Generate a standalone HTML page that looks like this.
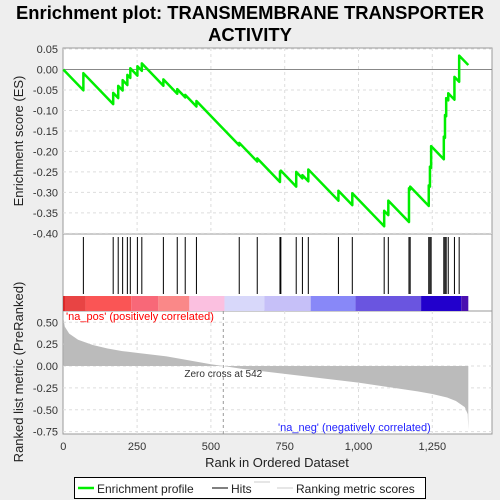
<!DOCTYPE html>
<html><head><meta charset="utf-8"><style>
body{margin:0;background:#eeeeee;font-family:"Liberation Sans",sans-serif}
svg{display:block}
</style></head><body>
<svg id="c" width="500" height="500" xmlns="http://www.w3.org/2000/svg"></svg>
<script>
const hitRanks=[68,169,186,201,217,227,251,266,339,386,413,451,596,657,734,737,789,810,830,932,979,1087,1101,1171,1175,1238,1242,1246,1289,1293,1297,1304,1325,1341];
const esAfter=[-0.009,-0.057,-0.040,-0.026,-0.013,0.003,0.008,0.015,-0.024,-0.048,-0.062,-0.077,-0.179,-0.217,-0.249,-0.247,-0.250,-0.258,-0.244,-0.296,-0.302,-0.345,-0.320,-0.290,-0.286,-0.283,-0.237,-0.187,-0.164,-0.111,-0.070,-0.058,-0.018,0.034];
const metricRanks=[0,5,20,50,75,100,150,200,250,300,350,400,450,500,542,600,700,800,900,1000,1100,1200,1250,1300,1330,1360,1370,1372];
const metricVals=[0.55,0.45,0.37,0.30,0.27,0.24,0.20,0.17,0.15,0.13,0.11,0.08,0.05,0.02,0,-0.03,-0.07,-0.11,-0.15,-0.19,-0.24,-0.29,-0.32,-0.36,-0.40,-0.47,-0.55,-0.73];
const bandEdges=[0,4,75,230,322,427,546,681,838,990,1212,1348,1372];
const bandColors=["#dd0000","#e84444","#fa5555","#f86878","#fa8888","#fbc0e0","#d8d8fa","#c6c0f8","#8888f8","#6a55e0","#2200cc","#4a10b0"];
const esTicks=[0.05,0,-0.05,-0.10,-0.15,-0.20,-0.25,-0.30,-0.35,-0.40];
const mTicks=[0.5,0.25,0,-0.25,-0.5,-0.75];
const xTicks=[0,250,500,750,1000,1250];
const N=1372, step=1/1338;
const X=r=>63.3+r*0.2952;
const YE=v=>69.5-v*409.6;
const YM=v=>366-v*87.5;
const s=document.getElementById('c');const NS="http://www.w3.org/2000/svg";
function el(t,a,p){const e=document.createElementNS(NS,t);for(const k in a)e.setAttribute(k,a[k]);(p||s).appendChild(e);return e;}
function tx(str,a){const e=el('text',a);e.textContent=str;return e;}
let t=tx("Enrichment plot: TRANSMEMBRANE TRANSPORTER",{x:250,y:19,'text-anchor':'middle','font-size':18.4,'font-weight':'bold',fill:'#000'});

t=tx("ACTIVITY",{x:250,y:41,'text-anchor':'middle','font-size':18.4,'font-weight':'bold',fill:'#000'});

let bg=el('rect',{x:63,y:48,width:429,height:386,fill:'#fff',stroke:'#999'});

el('line',{x1:63,x2:492,y1:234,y2:234,stroke:'#999'});
el('line',{x1:63,x2:492,y1:311,y2:311,stroke:'#999'});
esTicks.forEach(v=>{el('line',{x1:63,x2:492,y1:YE(v),y2:YE(v),stroke:'#ddd','stroke-dasharray':'3,3'});
 let l=tx(v.toFixed(2),{x:58,y:YE(v)+4,'text-anchor':'end','font-size':11,fill:'#333'});
 });
mTicks.forEach(v=>{el('line',{x1:63,x2:492,y1:YM(v),y2:YM(v),stroke:'#ddd','stroke-dasharray':'3,3'});
 let l=tx(v.toFixed(2),{x:58,y:YM(v)+4,'text-anchor':'end','font-size':11,fill:'#333'});
 });
xTicks.forEach(v=>{if(v>0){el('line',{x1:X(v),x2:X(v),y1:48,y2:234,stroke:'#ddd','stroke-dasharray':'3,3'});
 el('line',{x1:X(v),x2:X(v),y1:311,y2:434,stroke:'#ddd','stroke-dasharray':'3,3'});}
 let l=tx(v.toLocaleString('en-US'),{x:X(v),y:450,'text-anchor':'middle','font-size':11,fill:'#333'});
 });
el('line',{x1:63,x2:492,y1:YE(0),y2:YE(0),stroke:'#888'});
let pts=[[0,0]],prevR=0,prevV=0;
hitRanks.forEach((r,i)=>{const b=prevV-(r-prevR)*step;pts.push([r,b]);pts.push([r,esAfter[i]]);prevR=r;prevV=esAfter[i];});
pts.push([N,prevV-(N-prevR)*step]);
let pl=el('polyline',{points:pts.map(p=>X(p[0])+','+YE(p[1])).join(' '),fill:'none',stroke:'#00ee00','stroke-width':2.5,'stroke-linejoin':'round'});

hitRanks.forEach(r=>{const h=el('line',{x1:X(r),x2:X(r),y1:237,y2:294,stroke:'#000','stroke-width':1});
 });
bandColors.forEach((c,i)=>{const r=el('rect',{x:X(bandEdges[i]),y:296,width:X(bandEdges[i+1])-X(bandEdges[i]),height:15,fill:c});
 });
let mp=metricRanks.map((r,i)=>X(r)+','+YM(metricVals[i]));
let ma=el('polygon',{points:X(0)+','+YM(0)+' '+mp.join(' ')+' '+X(N)+','+YM(0),fill:'#bbbbbb'});

el('line',{x1:X(542),x2:X(542),y1:311,y2:434,stroke:'#999','stroke-dasharray':'3,3'});
t=tx("Zero cross at 542",{x:X(542),y:377,'text-anchor':'middle','font-size':10,fill:'#333'});

t=tx("'na_pos' (positively correlated)",{x:66,y:320,'font-size':11,fill:'#f00'});

t=tx("'na_neg' (negatively correlated)",{x:278,y:431,'font-size':11,fill:'#22f'});

t=tx("Enrichment score (ES)",{x:0,y:0,'text-anchor':'middle','font-size':13,fill:'#222',transform:'translate(23,141) rotate(-90)'});

t=tx("Ranked list metric (PreRanked)",{x:0,y:0,'text-anchor':'middle','font-size':13,fill:'#222',transform:'translate(23,372) rotate(-90)'});

t=tx("Rank in Ordered Dataset",{x:277,y:467,'text-anchor':'middle','font-size':13,fill:'#222'});

let lg=el('rect',{x:74.5,y:477.5,width:351,height:21,fill:'#fff',stroke:'#000'});

el('line',{x1:78,x2:94,y1:488,y2:488,stroke:'#00ee00','stroke-width':2.5});
t=tx("Enrichment profile",{x:97,y:493,'font-size':12,fill:'#222'});
el('line',{x1:212,x2:228,y1:488,y2:488,stroke:'#000'});
t=tx("Hits",{x:231,y:493,'font-size':12,fill:'#222'});
el('line',{x1:254,x2:270,y1:482,y2:482,stroke:'#ccc'});
el('line',{x1:277,x2:293,y1:488,y2:488,stroke:'#ccc'});
t=tx("Ranking metric scores",{x:296,y:493,'font-size':12,fill:'#222'});
</script>
</body></html>
